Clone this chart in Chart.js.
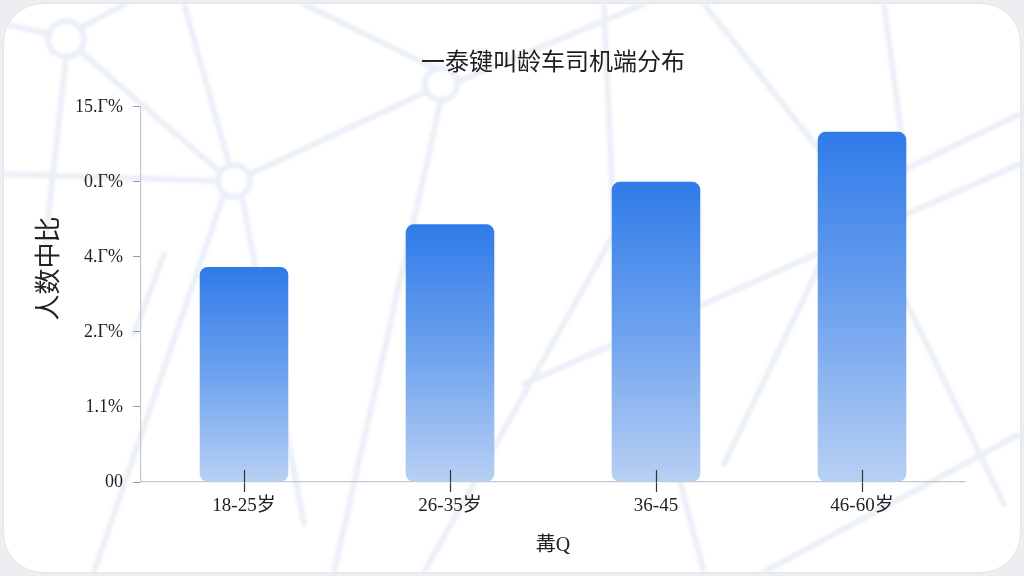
<!DOCTYPE html>
<html>
<head>
<meta charset="utf-8">
<script src="https://cdn.jsdelivr.net/npm/chart.js@4"></script>
<style>
  html, body { margin: 0; padding: 0; background: #eceef1; }
  #card {
    position: absolute; left: 3px; top: 3px; width: 1016px; height: 568px;
    background: #ffffff; border-radius: 40px; border: 1px solid #e2e5e9; overflow: hidden;
  }
  #web { position: absolute; left: 0; top: 0; filter: blur(1.8px); }
  #chartBox { position: absolute; left: 0; top: 0; width: 1024px; height: 576px; }
</style>
</head>
<body>
<div id="card">
  <svg id="web" width="1016" height="568" viewBox="0 0 1016 568" fill="none" stroke="#ebf0f7" stroke-width="6" stroke-linecap="round">
    <circle cx="62" cy="35" r="18"/>
    <circle cx="230" cy="177" r="16"/>
    <circle cx="437" cy="80" r="16"/>
    <line x1="0" y1="20" x2="46" y2="30"/>
    <line x1="76" y1="24" x2="130" y2="-5"/>
    <line x1="62" y1="53" x2="40" y2="250"/>
    <line x1="76" y1="47" x2="216" y2="168"/>
    <line x1="180" y1="0" x2="225" y2="160"/>
    <line x1="246" y1="170" x2="422" y2="88"/>
    <line x1="220" y1="190" x2="90" y2="568"/>
    <line x1="238" y1="193" x2="300" y2="520"/>
    <line x1="0" y1="170" x2="214" y2="177"/>
    <line x1="300" y1="0" x2="430" y2="64"/>
    <line x1="453" y1="78" x2="640" y2="0"/>
    <line x1="437" y1="96" x2="330" y2="568"/>
    <line x1="600" y1="0" x2="610" y2="230"/>
    <line x1="610" y1="230" x2="700" y2="568"/>
    <line x1="610" y1="230" x2="420" y2="568"/>
    <line x1="700" y1="0" x2="850" y2="190"/>
    <line x1="850" y1="190" x2="1016" y2="110"/>
    <line x1="850" y1="190" x2="720" y2="460"/>
    <line x1="850" y1="190" x2="1000" y2="500"/>
    <line x1="880" y1="0" x2="900" y2="150"/>
    <line x1="700" y1="300" x2="1016" y2="160"/>
    <line x1="760" y1="568" x2="1016" y2="430"/>
    <line x1="520" y1="380" x2="700" y2="300"/>
    <line x1="130" y1="330" x2="160" y2="250"/>
  </svg>
</div>
<div id="chartBox"><canvas id="ageChart" width="1024" height="576"></canvas></div>
<script>
// === Data ===
const ageGroups = ['18-25岁', '26-35岁', '36-45', '46-60岁'];
const driverShare = [8.6, 10.3, 12.0, 14.0];
const yTickLabels = ['00', '1.1%', '2.Γ%', '4.Γ%', '0.Γ%', '15.Γ%'];

const chartTitle = '一泰键叫龄车司机端分布';
const xTitle = '冓Q';
const yTitle = '　　人数中比';

const serif = '"Liberation Serif", "Noto Sans CJK SC", serif';
const sans = '"Noto Sans CJK SC", "Noto Sans", sans-serif';

// gradient per bar: strong blue at its top, pale at the base
function barGradient(context) {
  const chart = context.chart;
  const area = chart.chartArea;
  if (!area || context.type !== 'data') return '#4a8ded';
  const yTop = chart.scales.y.getPixelForValue(context.raw);
  const g = chart.ctx.createLinearGradient(0, yTop, 0, area.bottom);
  g.addColorStop(0, '#2f7be9');
  g.addColorStop(0.5, '#6ea2ee');
  g.addColorStop(1, '#b8d0f3');
  return g;
}

// short tick marks that rise into the bars from the x axis
const upTicks = {
  id: 'upTicks',
  afterDatasetsDraw(chart) {
    const { ctx, scales: { x }, chartArea } = chart;
    ctx.save();
    ctx.strokeStyle = '#333';
    ctx.lineWidth = 1.2;
    x.ticks.forEach((t, i) => {
      const px = Math.round(x.getPixelForTick(i)) + 0.5;
      ctx.beginPath();
      ctx.moveTo(px, chartArea.bottom - 12);
      ctx.lineTo(px, chartArea.bottom);
      ctx.stroke();
    });
    ctx.restore();
  }
};

const ctx = document.getElementById('ageChart').getContext('2d');
new Chart(ctx, {
  type: 'bar',
  data: {
    labels: ageGroups,
    datasets: [{
      data: driverShare,
      backgroundColor: barGradient,
      borderRadius: 8,
      borderSkipped: false,
      categoryPercentage: 1,
      barPercentage: 0.43
    }]
  },
  options: {
    responsive: false,
    animation: false,
    layout: { padding: { left: 0, right: 59, top: 0, bottom: 18 } },
    plugins: {
      legend: { display: false },
      tooltip: { enabled: false },
      title: {
        display: true,
        text: chartTitle,
        fullSize: false,
        color: '#1e1e1e',
        font: { family: sans, size: 24, weight: 'normal' },
        padding: { top: 46, bottom: 32 }
      }
    },
    scales: {
      x: {
        grid: { display: true, drawOnChartArea: false, offset: false, tickLength: 10, color: '#333', tickWidth: 1.2 },
        border: { color: '#c4c7cc', width: 1.2 },
        ticks: { color: '#222', padding: 3, font: { family: serif, size: 19 } },
        title: { display: true, text: xTitle, color: '#222', padding: { top: 10, bottom: 0 }, font: { family: serif, size: 20 } },
        afterFit(s) { s.height = 76; }
      },
      y: {
        min: 0,
        max: 15,
        ticks: {
          stepSize: 3,
          color: '#222',
          padding: 10,
          font: { family: serif, size: 18 },
          callback: (v, i) => yTickLabels[i]
        },
        grid: { display: true, drawOnChartArea: false, tickLength: 8, color: '#9a9da2' },
        border: { color: '#c4c7cc', width: 1.2 },
        title: { display: true, text: yTitle, color: '#222', padding: { top: 32, bottom: 0 }, font: { family: sans, size: 26 } },
        afterFit(s) { s.width = 141; }
      }
    }
  },
  plugins: [upTicks]
});
</script>
</body>
</html>
